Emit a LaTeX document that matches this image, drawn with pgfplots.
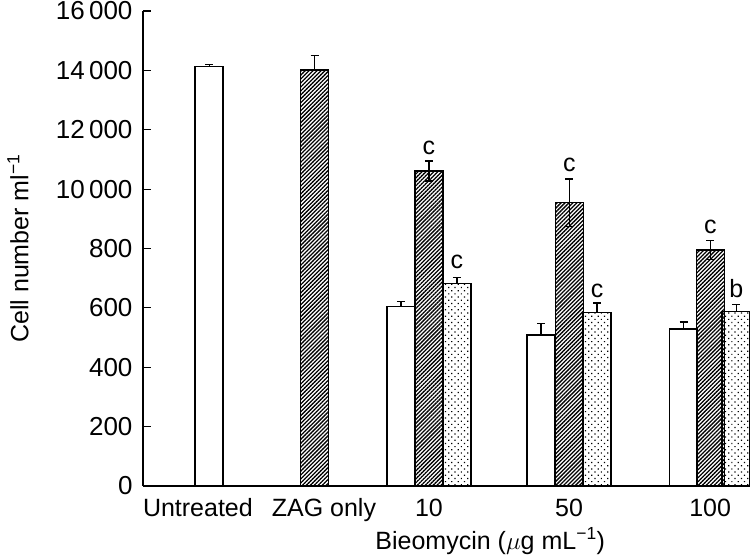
\documentclass[border=0pt]{standalone}
\usepackage{fontspec}
\setmainfont{Liberation Sans}
\usepackage{pgfplots}
\pgfplotsset{compat=1.18}
\usetikzlibrary{patterns,patterns.meta}

\begin{document}
\begin{tikzpicture}[font=\fontsize{25}{30}\selectfont]
\begin{axis}[
    scale only axis,
    width=605pt, height=475pt,
    xmin=0, xmax=21.6,
    ymin=0, ymax=16000,
    axis x line=bottom, axis y line=left,
    axis line style={-, line width=1.2pt},
    ytick={0,2000,...,16000},
    yticklabels={0,200,400,600,800,10\,000,12\,000,14\,000,16\,000},
    xtick={1.96,6.46,10.21,15.21,20.25},
    xticklabels={Untreated,ZAG only,10,50,100},
    x tick style={draw=none},
    tick align=inside, major tick length=8pt,
    y tick style={line width=1.2pt, black},
    /pgf/number format/assume math mode=true,
    xticklabel style={anchor=base, yshift=-30pt},
    yticklabel style={xshift=-7pt, font=\fontsize{26}{30}\selectfont},
    ylabel={Cell number ml\textsuperscript{−1}},
    ylabel style={at={(axis description cs:0,0.5)}, anchor=center, yshift=125pt},
    xlabel={Bieomycin ($\mu$g mL\textsuperscript{−1})},
    xlabel style={at={(axis description cs:0.574,0)}, anchor=base, yshift=-63pt},
    clip=false,
    bar width=1,
]

% untreated / bleomycin alone
\addplot[ybar, bar shift=0pt, fill=white, draw=black, line width=1.5pt,
    error bars/.cd, y dir=plus, y explicit,
    error bar style={line width=1.2pt},
    error mark options={rotate=90, mark size=4pt, line width=1.2pt}]
    coordinates {
    (2.36,14128) +- (0,80)
    (9.21,6040) +- (0,170)
    (14.21,5087) +- (0,400)
    (19.30,5288) +- (0,235)
    };

% ZAG only
\addplot[ybar, bar shift=0pt, draw=black, line width=1.5pt,
    pattern={Lines[angle=45,distance=2.8pt,line width=1.3pt]},
    error bars/.cd, y dir=plus, y explicit,
    error bar style={line width=1.2pt},
    error mark options={rotate=90, mark size=4pt, line width=1.2pt}]
    coordinates {
    (6.125,14017) +- (0,495)
    };

% ZAG + bleomycin
\addplot[ybar, bar shift=0pt, draw=black, line width=1.5pt,
    pattern={Lines[angle=45,distance=2.8pt,line width=1.3pt]},
    error bars/.cd, y dir=both, y explicit,
    error bar style={line width=1.2pt},
    error mark options={rotate=90, mark size=4pt, line width=1.2pt}]
    coordinates {
    (10.21,10612) +- (0,336)
    (15.22,9546) +- (0,797)
    (20.26,7944) +- (0,325)
    };

% third treatment
\addplot[ybar, bar shift=0pt, draw=black, line width=1.5pt,
    pattern={Dots[distance=4.5pt,angle=45,radius=0.85pt]},
    error bars/.cd, y dir=plus, y explicit,
    error bar style={line width=1.2pt},
    error mark options={rotate=90, mark size=4pt, line width=1.2pt}]
    coordinates {
    (11.21,6813) +- (0,223)
    (16.21,5849) +- (0,312)
    (21.18,5871) +- (0,236)
    };

\node[anchor=base] at (axis cs:10.21,11160) {c};
\node[anchor=base] at (axis cs:11.21,7317) {c};
\node[anchor=base] at (axis cs:15.22,10600) {c};
\node[anchor=base] at (axis cs:16.21,6364) {c};
\node[anchor=base] at (axis cs:20.26,8515) {c};
\node[anchor=base] at (axis cs:21.18,6364) {b};
\end{axis}
\pgfresetboundingbox
\path[use as bounding box] ([shift={(-143pt,-72pt)}]current axis.south west)
    rectangle ([shift={(2pt,11pt)}]current axis.north east);
\end{tikzpicture}
\end{document}
